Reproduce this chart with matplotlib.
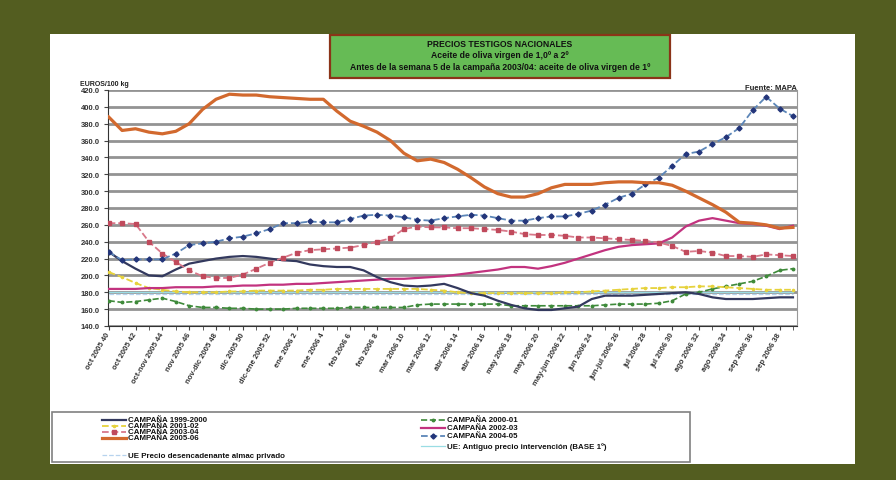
import matplotlib
matplotlib.use("Agg")
import matplotlib.pyplot as plt
from matplotlib.lines import Line2D
from matplotlib.patches import Rectangle
from matplotlib.transforms import ScaledTranslation
import numpy as np

plt.rcParams['font.family'] = ['Liberation Sans', 'DejaVu Sans']

# ---------------- data ----------------
etiquetas_x = ["oct 2005 40", "oct 2005 42", "oct-nov 2005 44", "nov 2005 46",
               "nov-dic 2005 48", "dic 2005 50", "dic-ene 2005 52", "ene 2006 2",
               "ene 2006 4", "feb 2006 6", "feb 2006 8", "mar 2006 10",
               "mar 2006 12", "abr 2006 14", "abr 2006 16", "may 2006 18",
               "may 2006 20", "may-jun 2006 22", "jun 2006 24", "jun-jul 2006 26",
               "jul 2006 28", "jul 2006 30", "ago 2006 32", "ago 2006 34",
               "sep 2006 36", "sep 2006 38"]

c1999_2000 = [228, 217, 208, 200, 199, 207, 214, 217, 220, 222, 223, 222, 220,
              218, 217, 213, 211, 210, 210, 206, 198, 192, 188, 187, 188, 190,
              185, 179, 176, 170, 165, 161, 159, 159, 161, 163, 172, 176, 176,
              176, 177, 178, 179, 180, 178, 174, 172, 172, 172, 173, 174, 174]
c2000_01 = [170, 168, 169, 171, 173, 169, 164, 162, 162, 161, 161, 160, 160,
            160, 161, 161, 161, 161, 162, 162, 162, 162, 162, 165, 166, 166,
            166, 166, 166, 166, 164, 164, 164, 164, 164, 164, 164, 165, 166,
            166, 166, 167, 170, 178, 180, 184, 187, 190, 193, 199, 206, 208]
c2001_02 = [204, 198, 191, 185, 183, 181, 180, 180, 180, 181, 181, 182, 182,
            182, 182, 183, 183, 184, 184, 184, 184, 184, 184, 184, 183, 182,
            180, 179, 179, 179, 179, 179, 179, 179, 180, 180, 181, 182, 183,
            184, 185, 185, 186, 186, 187, 187, 186, 185, 184, 183, 183, 183]
c2002_03 = [184, 184, 184, 185, 185, 186, 186, 186, 187, 187, 188, 188, 189,
            189, 190, 190, 191, 192, 193, 194, 195, 196, 196, 197, 198, 199,
            201, 203, 205, 207, 210, 210, 208, 211, 215, 220, 225, 230, 234,
            236, 237, 238, 245, 258, 265, 268, 265, 262, 261, 259, 255, 259]
c2003_04 = [262, 262, 261, 240, 226, 216, 206, 199, 197, 197, 201, 208, 215,
            221, 227, 230, 231, 232, 233, 236, 240, 244, 255, 258, 257, 257,
            256, 256, 255, 254, 252, 249, 248, 248, 247, 245, 245, 244, 243,
            242, 241, 239, 235, 228, 229, 227, 223, 223, 222, 225, 224, 223]
c2004_05 = [228, 218, 219, 219, 219, 226, 236, 238, 240, 244, 246, 250, 255,
            262, 262, 264, 263, 263, 267, 271, 272, 271, 269, 266, 265, 268,
            270, 272, 271, 268, 265, 265, 268, 270, 270, 273, 277, 284, 292,
            297, 308, 316, 330, 344, 347, 356, 364, 375, 396, 412, 398, 389]
c2005_06 = [388, 372, 374, 370, 368, 371, 380, 397, 409, 415, 414, 414, 412,
            411, 410, 409, 409, 395, 383, 377, 370, 360, 345, 336, 338, 334,
            326, 316, 305, 297, 293, 293, 297, 304, 308, 308, 308, 310, 311,
            311, 310, 310, 307, 300, 292, 284, 275, 263, 262, 260, 256, 257]
ue_desencadenante = 178.0
ue_intervencion = 180.0

y_ticks = list(range(140, 421, 20))

# ---------------- figure ----------------
W, H = 896, 481
OLIVE = '#535D20'
fig = plt.figure(figsize=(W / 100, H / 100), dpi=100)
fig.patch.set_facecolor(OLIVE)


def fx(x):
    return x / W


def fy(y):
    return 1 - y / H


fig.add_artist(Rectangle((fx(50), fy(465)), (855 - 50) / W, (465 - 35) / H,
                         transform=fig.transFigure, facecolor='white',
                         edgecolor='none', zorder=0))

ax = fig.add_axes([fx(108), fy(327), (797 - 108) / W, (327 - 91) / H])
ax.set_facecolor('white')
n = len(c2005_06)
x = np.arange(n)

ax.set_ylim(140, 420)
ax.set_xlim(-0.05, n - 1 + 0.3)
ax.set_yticks(y_ticks)
ax.set_yticklabels([f"{v:.1f}" for v in y_ticks], fontsize=5.5,
                   fontweight='bold', color='#333333')
for v in y_ticks:
    ax.axhline(v, color='#939393', lw=2.0, zorder=1)

ax.set_xticks(x, minor=True)
ax.set_xticks(x[::2])
ax.set_xticklabels(etiquetas_x, rotation=60, ha='right', va='center',
                   rotation_mode='anchor', fontsize=5.5, fontweight='bold',
                   color='#333333')
off = ScaledTranslation(-0.12, -0.03, fig.dpi_scale_trans)
for lab in ax.get_xticklabels():
    lab.set_transform(lab.get_transform() + off)
ax.tick_params(axis='x', which='both', length=3, color='#444444', pad=2)
ax.tick_params(axis='y', length=3, color='#444444', pad=3)
ax.spines['top'].set_visible(False)
ax.spines['right'].set_color('#999999')
ax.spines['left'].set_color('#333333')
ax.spines['bottom'].set_color('#333333')

# styles
st = {
    'c1999': dict(color='#33395E', lw=1.6, ls='-'),
    'c2000': dict(color='#3E8A3A', lw=1.2, ls='--', marker='o', ms=1.8),
    'c2001': dict(color='#E6D23C', lw=1.3, ls='--', marker='o', ms=1.6),
    'c2002': dict(color='#C2337F', lw=1.6, ls='-'),
    'c2003': dict(color='#D8788A', lw=1.3, ls='--', marker='s', ms=2.2,
                  mfc='#C04A5C', mec='#C04A5C'),
    'c2004': dict(color='#5C86B8', lw=1.3, ls='--', marker='D', ms=2.6,
                  mfc='#23357A', mec='#23357A'),
    'c2005': dict(color='#D2692E', lw=2.3, ls='-'),
    'ue1': dict(color='#B7D3EE', lw=0.9, ls='--'),
    'ue2': dict(color='#9ADDE4', lw=0.9, ls='-'),
}

ax.plot(x, [ue_desencadenante] * n, zorder=2, **st['ue1'])
ax.plot(x, [ue_intervencion] * n, zorder=2, **st['ue2'])
ax.plot(x, c2000_01, zorder=3, **st['c2000'])
ax.plot(x, c2001_02, zorder=3, **st['c2001'])
ax.plot(x, c2002_03, zorder=3, **st['c2002'])
ax.plot(x, c1999_2000, zorder=4, **st['c1999'])
ax.plot(x, c2003_04, zorder=4, **st['c2003'])
ax.plot(x, c2004_05, zorder=5, **st['c2004'])
ax.plot(x, c2005_06, zorder=5, **st['c2005'])

# texts
fig.text(fx(80), fy(84), "EUROS/100 kg", fontsize=5, fontweight='bold',
         color='#222222', va='center')
fig.text(fx(745), fy(88), "Fuente: MAPA", fontsize=5.5, fontweight='bold',
         color='#222222', va='center')

# title box
fig.add_artist(Rectangle((fx(330), fy(79)), (670 - 330) / W, (79 - 36) / H,
                         transform=fig.transFigure, facecolor='#66BB55',
                         edgecolor='#8B3418', lw=1.6, zorder=5))
titulo = ["PRECIOS TESTIGOS NACIONALES",
          "Aceite de oliva virgen de 1,0º a 2º",
          "Antes de la semana 5 de la campaña 2003/04: aceite de oliva virgen de 1º"]
for t, yy in zip(titulo, [45, 56, 67]):
    fig.text(fx(500), fy(yy), t, fontsize=6.2, fontweight='bold',
             color='#111111', ha='center', va='center', zorder=6)

# legend (manual)
fig.add_artist(Rectangle((fx(52), fy(463)), (690 - 52) / W, (463 - 413) / H,
                         transform=fig.transFigure, facecolor='white',
                         edgecolor='#808080', lw=1.2, zorder=5))
left_items = [("CAMPAÑA 1999-2000", 'c1999', 421),
              ("CAMPAÑA 2001-02", 'c2001', 427),
              ("CAMPAÑA 2003-04", 'c2003', 433),
              ("CAMPAÑA 2005-06", 'c2005', 439),
              ("UE Precio desencadenante almac privado", 'ue1', 456)]
right_items = [("CAMPAÑA 2000-01", 'c2000', 421),
               ("CAMPAÑA 2002-03", 'c2002', 429),
               ("CAMPAÑA 2004-05", 'c2004', 437),
               ("UE: Antiguo precio intervención (BASE 1º)", 'ue2', 447)]
for items, x0, x1 in [(left_items, 102, 126), (right_items, 421, 445)]:
    for lab, key, yy in items:
        kw = dict(st[key])
        mk = kw.pop('marker', None)
        ms = kw.pop('ms', None)
        mfc = kw.pop('mfc', None)
        mec = kw.pop('mec', None)
        fig.add_artist(Line2D([fx(x0), fx(x1)], [fy(yy), fy(yy)],
                              transform=fig.transFigure, zorder=6, **kw))
        if mk:
            fig.add_artist(Line2D([fx((x0 + x1) / 2)], [fy(yy)],
                                  transform=fig.transFigure, marker=mk,
                                  ms=ms, color=kw['color'],
                                  mfc=mfc or kw['color'],
                                  mec=mec or kw['color'], ls='none', zorder=7))
        fig.text(fx(x1 + 2), fy(yy), lab, fontsize=5.7, fontweight='bold',
                 color='#111111', va='center', zorder=7)

fig.savefig("out.png", dpi=100, facecolor=OLIVE)
